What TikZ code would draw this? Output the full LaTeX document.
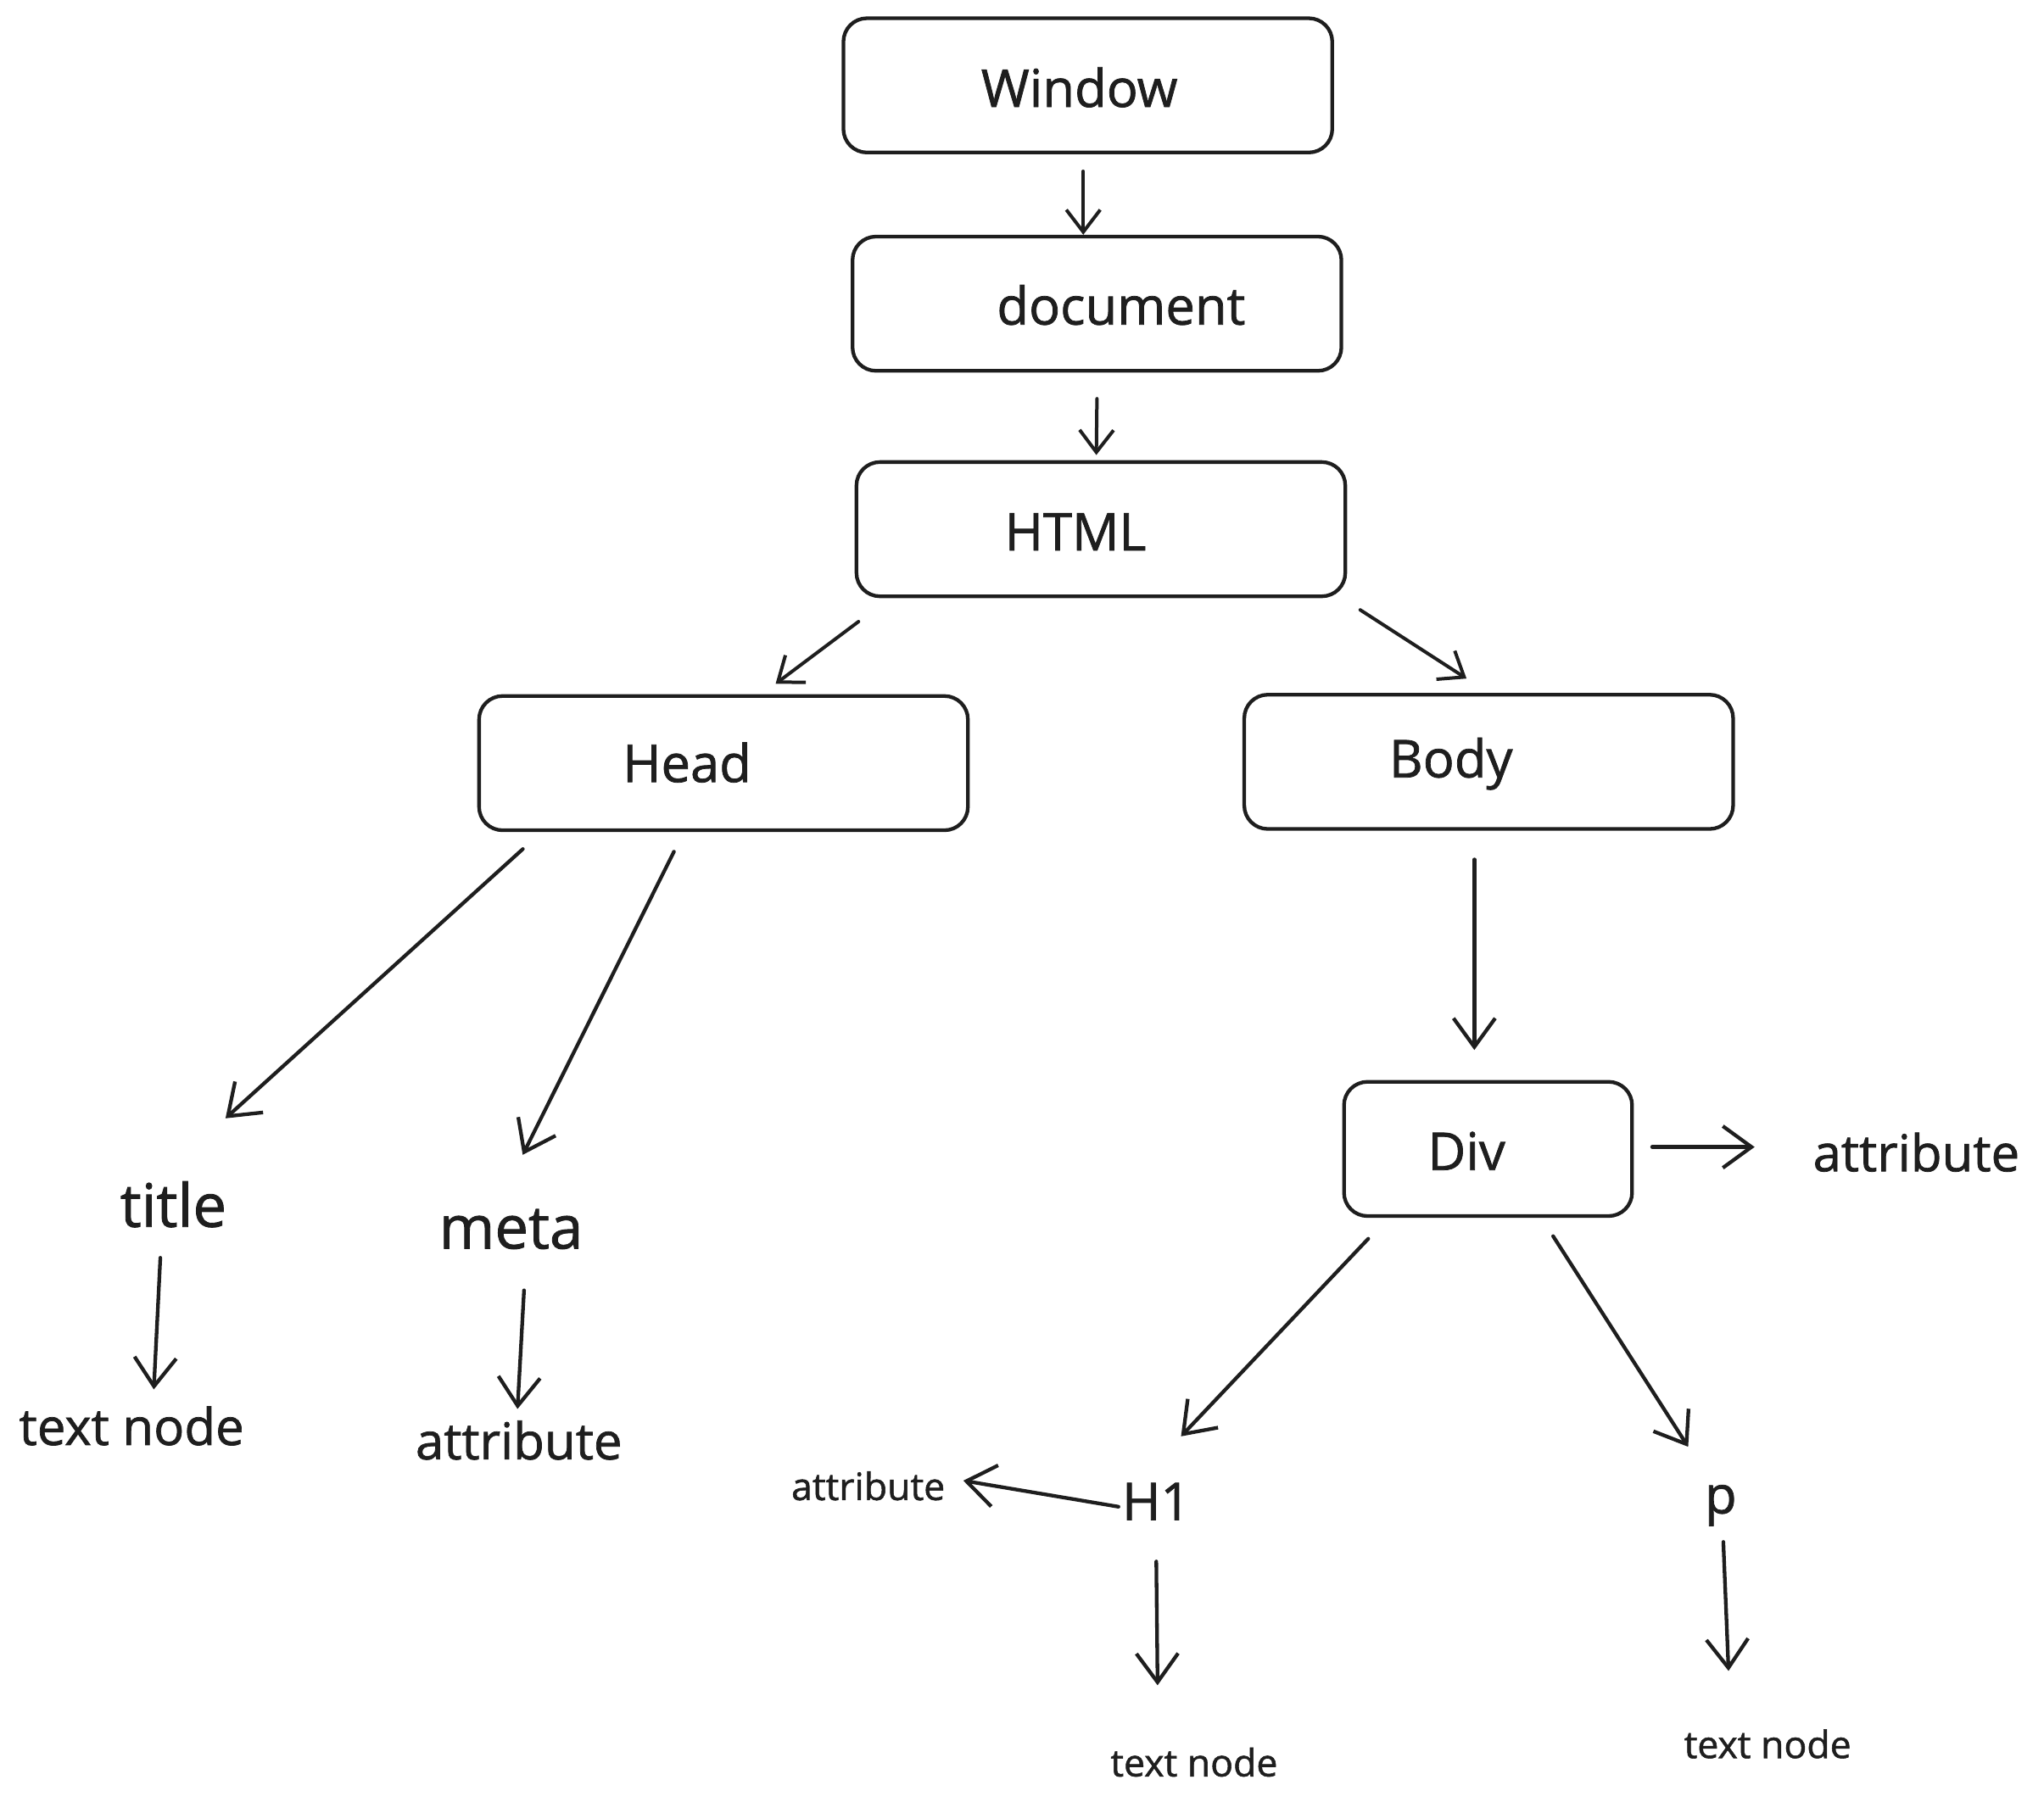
\documentclass[tikz,border=0pt]{standalone}
\usepackage{fontspec}
\setmainfont{Open Sans}[FakeBold=1.2]
\usetikzlibrary{arrows.meta,calc}
\definecolor{ink}{HTML}{1E1E1E}
\begin{document}
\begin{tikzpicture}[x=1pt,y=-1pt,
  every node/.style={text=ink},
  box/.style={draw=ink,line width=2.8pt,rounded corners=18pt,minimum width=375pt,minimum height=103pt,inner sep=0pt},
  big/.style={font=\fontsize{40}{48}\selectfont,inner sep=0pt},
  huge/.style={font=\fontsize{46}{54}\selectfont,inner sep=0pt},
  mid/.style={font=\fontsize{39}{46}\selectfont,inner sep=0pt},
  small/.style={font=\fontsize{29}{35}\selectfont,inner sep=0pt},
  link/.style={draw=ink,line width=2.6pt,line cap=round,-{Straight Barb[length=17pt,width=26pt,line width=2.6pt]}},
  biglink/.style={link,line width=2.8pt,-{Straight Barb[length=22pt,width=32pt,line width=2.8pt]}}]
\useasboundingbox (0,0) rectangle (1568,1382);

% boxes
\node[box] (win)  at (834.5,65.5) {};
\node[box] (doc)  at (841.5,233)  {};
\node[box] (html) at (844.5,406)  {};
\node[box] (head) at (555,585.5)  {};
\node[box] (body) at (1142,584.5) {};
\node[box,minimum width=221pt] (div) at (1141.5,881.5) {};

% box labels
\node[big] (winT)  at (828,67)   {Window};
\node[big] (docT)  at (860,234)  {document};
\node[big] (htmlT) at (825,408)  {HTML};
\node[big] (headT) at (527,585)  {Head};
\node[big] (bodyT) at (1113,586) {Body};
\node[big] (divT)  at (1125,883) {Div};

% free labels
\node[huge] (title) at (133,924)  {title};
\node[huge] (meta)  at (392,943)  {meta};
\node[mid]  (tnA)   at (101,1094) {text node};
\node[mid]  (atA)   at (398,1105) {attribute};
\node[mid]  (atD)   at (1470,884) {attribute};
\node[big]  (h1)    at (887,1152) {H1};
\node[big]  (p)     at (1320,1155){p};
\node[small] (atH)  at (666,1140) {attribute};
\node[small] (tnH)  at (916,1352) {text node};
\node[small] (tnP)  at (1356,1338){text node};

% connectors
\draw[link] ($(win.south)+(-3.5,13)$) -- ($(doc.north)+(-10.5,0)$);
\draw[link] ($(doc.south)+(0,20)$) -- ($(html.north)+(-3.5,-4)$);
\draw[link] ($(html.south west)+(3,18)$) -- ($(head.north)+(40,-8)$);
\draw[link] ($(html.south east)+(10,9)$) -- ($(body.north)+(-17,-11)$);
\draw[biglink] ($(head.south west)+(35,13)$) -- ($(title)+(40,-66)$);
\draw[biglink] ($(head.south)+(-38,15)$) -- ($(meta)+(9,-57)$);
\draw[biglink] ($(body.south)+(-11,22)$) -- ($(div.north)+(-10.5,-23)$);
\draw[biglink] ($(div.east)+(14,-1.5)$) -- ($(atD)+(-124,-4)$);
\draw[biglink] ($(div.south west)+(20,16)$) -- ($(h1)+(19,-50)$);
\draw[biglink] ($(div.south east)+(-62,14)$) -- ($(p)+(-25,-45)$);
\draw[biglink] ($(title)+(-10,41)$) -- ($(tnA)+(17,-28)$);
\draw[biglink] ($(meta)+(10,47)$) -- ($(atA)+(-1,-24)$);
\draw[biglink] ($(h1)+(-29,4)$) -- ($(atH)+(73,-4)$);
\draw[biglink] ($(h1)+(0,46)$) -- ($(tnH)+(-28,-59)$);
\draw[biglink] ($(p)+(2,28)$) -- ($(tnP)+(-30,-56)$);
\end{tikzpicture}
\end{document}
